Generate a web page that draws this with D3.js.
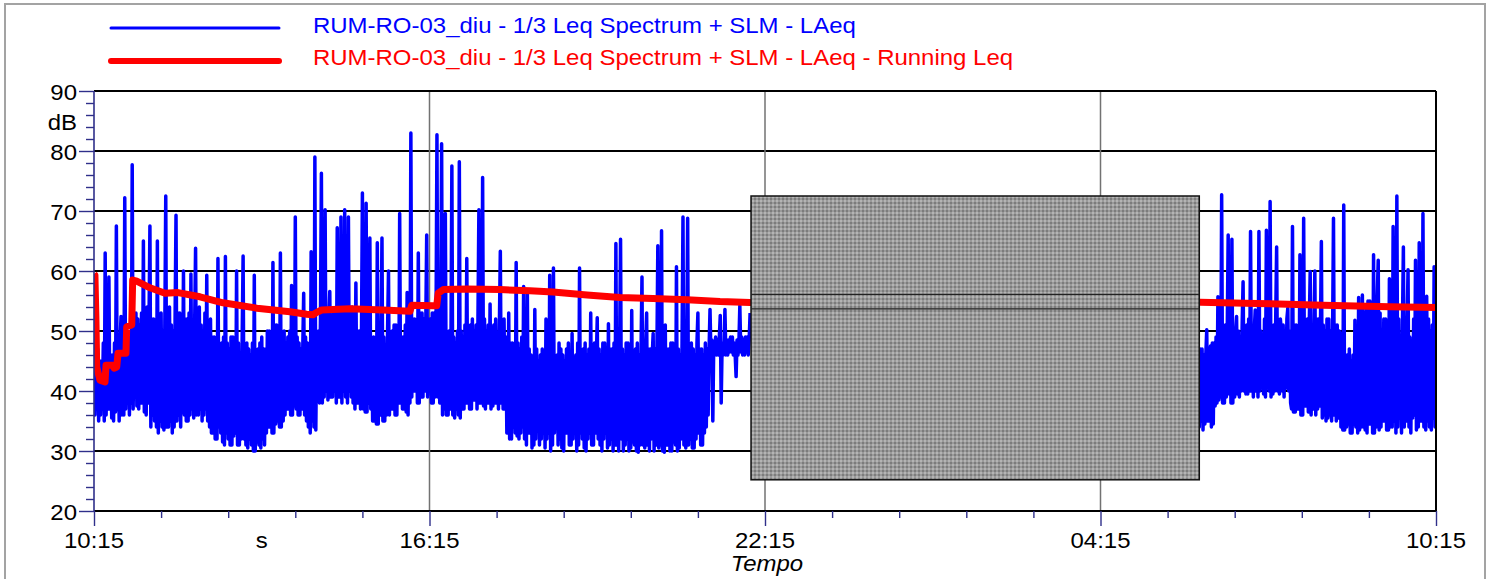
<!DOCTYPE html>
<html>
<head>
<meta charset="utf-8">
<script src="https://cdn.jsdelivr.net/npm/d3@7"></script>
<style>
  html, body { margin: 0; padding: 0; background: #fff; }
  svg { display: block; font-family: "Liberation Sans", Arial, Helvetica, sans-serif; }
</style>
</head>
<body>
<svg id="chart" width="1488" height="579"></svg>
<script>
// Time axis: minutes elapsed since 10:15 on the first day (0 .. 1440).
const seriesNames = [
  "RUM-RO-03_diu - 1/3 Leq Spectrum + SLM - LAeq",
  "RUM-RO-03_diu - 1/3 Leq Spectrum + SLM - LAeq - Running Leq"
];
const timeTickValues = [0, 360, 720, 1080, 1440];
const timeTickLabels = ["10:15", "16:15", "22:15", "04:15", "10:15"];
const levelTicks = [20, 30, 40, 50, 60, 70, 80, 90];
const unitLabels = ["dB", "s"];
const axisTitle = "Tempo";

// LAeq, one sample per minute, 10:15 -> 22:00
const sampleStep = 1;
const laeqDayStart = 0;
const laeqDay = [
  59.5, 36, 46, 37, 47, 35, 45, 36, 45, 38, 48, 35, 63, 36, 47, 37, 59, 37, 46, 35.5,
  46, 35, 48, 36.5, 67.5, 37, 47, 35, 48, 52.4, 36, 46, 36, 72.2, 37, 48, 38, 47, 36, 49,
  38, 77.7, 37, 51, 39, 53, 37.5, 52, 37, 51, 38, 53, 38, 65, 36.5, 50, 36, 54, 38, 51,
  67.5, 34, 52, 36, 52, 35, 51, 34, 65, 33, 52, 35, 53, 34, 50, 33.5, 51, 72.5, 34, 53,
  34, 54, 35, 51, 33, 50, 34, 52, 69.3, 35, 53, 36, 53, 34, 51, 36.5, 60, 36, 52, 35,
  52, 35, 53, 36, 59.5, 37, 51, 35.5, 51, 63.8, 36, 52, 36, 54, 37, 51, 35, 50, 36, 53,
  37, 59.3, 35, 50, 34, 52, 33, 49, 33, 49, 32, 48, 32, 62.1, 34, 47, 33, 48, 31.5, 49,
  31, 62.4, 33, 48, 32, 47, 31, 49, 31, 49, 32.5, 47, 33, 60, 31, 48, 31, 46, 32, 49,
  62.5, 32, 47, 31, 48, 30.5, 47, 32, 46, 31, 48, 30, 59.3, 30, 46, 31.5, 47, 31, 48, 30.5,
  49, 32, 47, 31, 47, 33, 50, 34, 50, 34, 49, 33, 61.4, 33, 51, 34.5, 51, 35, 50, 34,
  63, 34, 49, 35, 50, 36, 48, 37, 49, 37, 50, 36, 57.6, 36, 48, 37.5, 69, 37, 49, 36,
  48, 36, 47, 37, 47, 56.3, 36, 49, 35, 48, 34, 47, 33, 63.2, 35, 48, 34, 79, 33.5, 49,
  39, 50, 38, 52, 76.3, 38, 51, 39, 70.2, 40, 53, 38.5, 52, 56.6, 39, 51, 39, 53, 40, 52,
  38, 67.2, 39, 51, 39, 69, 38, 53, 40, 70.2, 39, 52, 38, 69, 40, 51, 39, 54, 38, 52,
  37, 58, 38, 50, 38, 50, 37, 49, 73, 37, 48, 36.5, 71.3, 36.5, 49, 38, 65.5, 37, 48, 35,
  49, 35, 47, 34.5, 64.7, 34.5, 48, 36, 48, 65.5, 35, 49, 35, 47, 36, 50, 60, 36, 49, 37,
  50, 37, 51, 36, 51, 36, 50, 38, 69.6, 38, 49, 37, 49, 37, 51, 36.5, 56.4, 36, 50, 38,
  83, 39, 52, 40, 52, 40, 51, 38, 63, 38, 53, 39, 53, 39, 52, 40, 51, 66, 39, 52,
  40, 52, 38, 53, 38, 53, 39, 51, 82.7, 39, 52, 38, 51, 81.2, 36, 49, 37, 69.6, 36, 48,
  36, 50, 37, 47, 77.5, 36, 49, 35.5, 48, 37, 50, 36, 78.2, 35.5, 50, 37, 49, 37, 51, 38,
  62.1, 38, 50, 37, 51, 37, 52, 38.5, 50, 38.5, 51, 37, 52, 70.2, 38, 50, 38, 75.6, 37.5, 52,
  37, 50, 38, 51, 38, 54.5, 37, 50, 37.5, 51, 38, 52, 38, 49, 37, 51, 63.3, 38, 50, 37,
  52, 37, 49, 33, 33, 53, 32, 48, 32, 48, 34, 47, 33, 61.4, 32.5, 48, 32, 47, 33, 49,
  34, 57.4, 32, 46, 31, 56.3, 33, 47, 33, 46, 30.5, 45, 31, 53.6, 32, 47, 34, 45, 31, 46,
  32, 47, 33, 45, 30.5, 52, 32, 46, 33, 59.3, 30, 47, 31, 60.5, 33, 45, 34, 46, 31, 48,
  32, 47, 30.5, 46, 30, 45, 33, 47, 33, 48, 31, 46, 31, 49.6, 32, 45, 33, 46, 30, 48,
  31, 60.5, 33, 46, 32, 47, 30.5, 48, 30, 46, 32, 47, 33, 53, 31, 46, 31, 48, 33, 45,
  52.2, 32, 47, 31, 46, 30, 48, 32, 48, 33, 46, 30.5, 51.2, 31, 47, 32, 47, 30, 48, 31,
  64.6, 31, 46, 30, 47, 65.3, 32, 47, 30, 46, 31, 48, 32, 48, 30, 47, 30.5, 53.4, 31.5, 46,
  31, 47, 30, 48, 29.8, 46, 31, 47, 59, 31, 46, 30.5, 48, 53, 31, 47, 30, 47, 32, 46,
  49.6, 30, 47, 31, 46, 64.2, 30.5, 48, 31, 66.7, 30, 46, 29.8, 51, 31, 47, 31, 47, 30, 48,
  30, 48, 31.5, 46, 31, 60.7, 30, 47, 30.5, 46, 32, 48, 69, 31, 47, 30.5, 47, 68.8, 31, 46,
  32, 48, 30.5, 47, 30.5, 46, 32, 48, 53, 33, 47, 31, 47, 31, 46, 33, 48, 34, 47, 36,
  47, 53.6, 46, 48.5, 35, 48, 46.5, 49, 46, 48.5, 46, 49, 52.6, 38, 48, 46, 46.5, 53.6, 46, 48.5,
  46, 48.5, 46.5, 49, 46.5, 49, 46, 48, 46, 42.4, 48.5, 46, 48, 54.2, 46.5, 49, 46, 48.5, 46, 49,
  46.5, 49, 46, 48.5, 53
];

// LAeq, one sample per minute, 06:00 -> 10:15
const laeqMorningStart = 1185;
const laeqMorning = [
  44, 34, 47, 35, 47, 33.5, 46, 34.5, 46, 50.2, 35, 47, 35, 47.5, 34, 48, 34.5, 48, 37.5, 49,
  38, 55.7, 38.5, 50, 39, 72.7, 38, 49, 38, 51, 39, 50, 66, 39.5, 51, 38, 65.3, 38, 49, 39,
  50, 52.4, 39.5, 50, 39, 49, 40, 51, 58.2, 40, 50, 39.5, 51, 39.5, 52, 40, 66.6, 40, 50, 39,
  50, 53.5, 40, 51, 39, 66.6, 40, 50, 40.5, 49, 39.5, 52, 39, 66.8, 40.5, 51, 40, 71.6, 39, 50,
  39.5, 51, 40, 52, 64, 40, 51, 39.5, 52, 50.2, 40, 51, 39, 50, 40.5, 52, 53.8, 40, 50, 38,
  37, 67.4, 36.5, 51, 36.5, 51, 37, 50, 37, 62.7, 36, 52, 36, 68.8, 37.5, 50, 37.5, 52, 36.5, 51,
  59.9, 36, 50, 37, 50, 60, 36, 52, 37, 52, 37.5, 50, 64.9, 35.5, 51, 36, 50, 35, 52, 35.5,
  52, 36, 50, 35, 49, 68.8, 36, 51, 35, 51, 35.5, 50, 49.6, 34, 47, 33.5, 71, 33.5, 46, 34,
  46, 34.5, 47, 33, 45, 33, 46, 34.5, 51.8, 34, 47, 33, 55.6, 33.5, 54, 34, 56, 34, 53, 33.5,
  54, 33, 55, 34.5, 55, 34.5, 53, 33, 62.7, 33, 54, 34, 56, 61.8, 33.5, 53, 34, 50, 35, 52,
  35, 52, 33.5, 49, 33.5, 58.7, 34, 51, 34, 67.4, 35, 50, 33, 72.5, 34, 52, 35.5, 49, 33, 51,
  64, 34, 50, 35, 51, 60.2, 34, 49, 33, 48, 35.5, 52, 36, 61.8, 33.5, 50, 34, 64.7, 35, 51,
  35, 69.6, 34, 49, 33.5, 55.8, 35, 52, 34, 50, 33.5, 51, 35.5, 60.7, 34, 50
];

// Running Leq (minutes, dB)
const runningLeqTimes = [
  0, 1, 2.1, 2.9, 6.4, 11.8, 12.9, 20.4, 21.5, 24.4,
  25.8, 34.3, 35.1, 40.5, 41.5, 45.8, 60.1, 76.2, 90.1, 113.7,
  138.4, 174.9, 210.3, 228.2, 235, 239, 244.3, 274.7, 310.1, 339.1,
  340.9, 363.8, 367.7, 369.4, 374.8, 399.9, 435.7, 467.8, 492.5, 529,
  564.4, 599.8, 636.3, 671.7, 703.9, 1186.8, 1247.6, 1318.7, 1390.6, 1440
];
const runningLeqValues = [
  59.5, 59.3, 51.8, 44, 41.8, 41.5, 44.3, 44.3, 43.8, 44,
  46.3, 46.3, 50.7, 51, 58.5, 58.3, 57.2, 56.3, 56.4, 55.7,
  54.7, 53.8, 53.2, 52.8, 52.7, 53.1, 53.5, 53.7, 53.5, 53.3,
  54.3, 54.2, 54.2, 56.3, 56.9, 57, 56.9, 56.7, 56.5, 56,
  55.6, 55.4, 55.2, 54.9, 54.75, 54.8, 54.6, 54.3, 54.05, 53.9
];

// Masked (excluded) period 22:00 -> 06:00
const maskedTimes = [705, 1186];
const maskedLevels = [25.2, 72.5];
const maskedMarkLevels = [56.1, 53.7];

// ---------------------------------------------------------------
const svg = d3.select("#chart");
const plot = { left: 94, right: 1436, top: 91, bottom: 511 };
const FONT = 22;
const STRETCH = 1.09;
const NAVY = "#2f2f8a";

const x = d3.scaleLinear().domain([0, 1440]).range([plot.left, plot.right]);
const y = d3.scaleLinear().domain([20, 90]).range([plot.bottom, plot.top]);

const defs = svg.append("defs");
defs.append("clipPath").attr("id", "plotClip")
  .append("rect")
  .attr("x", plot.left).attr("y", plot.top - 2)
  .attr("width", plot.right - plot.left).attr("height", plot.bottom - plot.top + 4);

const pat = defs.append("pattern").attr("id", "maskFill")
  .attr("patternUnits", "userSpaceOnUse").attr("width", 4).attr("height", 4);
pat.append("rect").attr("width", 4).attr("height", 4).attr("fill", "#9a9a9a");
pat.append("rect").attr("x", 0).attr("y", 0).attr("width", 2).attr("height", 2).attr("fill", "#b4b4b4");
pat.append("rect").attr("x", 2).attr("y", 2).attr("width", 2).attr("height", 2).attr("fill", "#7c7c7c");

// outer frame
svg.append("rect")
  .attr("x", 5).attr("y", 4).attr("width", 1480).attr("height", 600)
  .attr("fill", "none").attr("stroke", "#a3a3a3").attr("stroke-width", 2);

function addText(parent, px, py, str, opts = {}) {
  return parent.append("text")
    .attr("transform", `translate(${px},${py}) scale(${STRETCH},1)`)
    .attr("text-anchor", opts.anchor || "start")
    .attr("font-size", opts.size || FONT)
    .attr("font-style", opts.italic ? "italic" : "normal")
    .attr("fill", opts.fill || "#000")
    .text(str);
}

// horizontal grid
svg.append("g").selectAll("line")
  .data(levelTicks.filter(v => v > 20 && v < 90))
  .join("line")
  .attr("x1", plot.left).attr("x2", plot.right)
  .attr("y1", d => y(d)).attr("y2", d => y(d))
  .attr("stroke", "#000").attr("stroke-width", 2.2);

// vertical grid
svg.append("g").selectAll("line")
  .data(timeTickValues.slice(1, -1))
  .join("line")
  .attr("x1", d => x(d)).attr("x2", d => x(d))
  .attr("y1", plot.top).attr("y2", plot.bottom)
  .attr("stroke", "#727272").attr("stroke-width", 1.5);

// data
const dataG = svg.append("g").attr("clip-path", "url(#plotClip)");
const lineGen = d3.line().x(d => x(d[0])).y(d => y(d[1]));

const dayPts = laeqDay.map((v, i) => [laeqDayStart + i * sampleStep, v]);
const mornPts = laeqMorning.map((v, i) => [laeqMorningStart + i * sampleStep, v]);
[dayPts, mornPts].forEach(pts => {
  dataG.append("path")
    .attr("d", lineGen(pts))
    .attr("fill", "none").attr("stroke", "#0000ff")
    .attr("stroke-width", 3.5).attr("stroke-linejoin", "round");
});

const runPts = runningLeqTimes.map((t, i) => [t, runningLeqValues[i]]);
dataG.append("path")
  .attr("d", lineGen(runPts))
  .attr("fill", "none").attr("stroke", "#ff0000")
  .attr("stroke-width", 7).attr("stroke-linejoin", "round");

// masked period
svg.append("rect")
  .attr("x", x(maskedTimes[0])).attr("y", y(maskedLevels[1]))
  .attr("width", x(maskedTimes[1]) - x(maskedTimes[0]))
  .attr("height", y(maskedLevels[0]) - y(maskedLevels[1]))
  .attr("fill", "url(#maskFill)").attr("stroke", "#111").attr("stroke-width", 1.5);
svg.append("g").selectAll("line")
  .data(maskedMarkLevels)
  .join("line")
  .attr("x1", x(maskedTimes[0])).attr("x2", x(maskedTimes[1]))
  .attr("y1", d => y(d)).attr("y2", d => y(d))
  .attr("stroke", "#222").attr("stroke-width", 1.3);

// frame lines
svg.append("line").attr("x1", plot.left).attr("x2", plot.right)
  .attr("y1", y(90)).attr("y2", y(90)).attr("stroke", "#000").attr("stroke-width", 2.2);
svg.append("line").attr("x1", plot.left).attr("x2", plot.right)
  .attr("y1", y(20)).attr("y2", y(20)).attr("stroke", "#000").attr("stroke-width", 2.2);
svg.append("line").attr("x1", plot.right).attr("x2", plot.right)
  .attr("y1", y(90)).attr("y2", y(20)).attr("stroke", "#000").attr("stroke-width", 2);

// y axis ticks
const minorLevels = d3.range(20, 91, 2).filter(v => v % 10 !== 0);
const yMajor = svg.append("g").attr("transform", `translate(${plot.left},0)`)
  .call(d3.axisLeft(y).tickValues(levelTicks).tickSize(15).tickFormat(""));
const yMinor = svg.append("g").attr("transform", `translate(${plot.left},0)`)
  .call(d3.axisLeft(y).tickValues(minorLevels).tickSize(8).tickFormat(""));
[yMajor, yMinor].forEach(g => {
  g.select(".domain").remove();
  g.selectAll("line").attr("stroke", NAVY).attr("stroke-width", 1.4);
});
svg.append("line").attr("x1", plot.left).attr("x2", plot.left)
  .attr("y1", y(90)).attr("y2", y(20)).attr("stroke", NAVY).attr("stroke-width", 1.6);

levelTicks.forEach(v => addText(svg, 77, y(v) + 8.5, String(v), { anchor: "end" }));
addText(svg, 77, 130, unitLabels[0], { anchor: "end" });

// x axis ticks
const minorTimes = d3.range(0, 1441, 72).filter(t => t % 360 !== 0);
const xMajor = svg.append("g").attr("transform", `translate(0,${plot.bottom})`)
  .call(d3.axisBottom(x).tickValues(timeTickValues).tickSize(15).tickFormat(""));
const xMinor = svg.append("g").attr("transform", `translate(0,${plot.bottom})`)
  .call(d3.axisBottom(x).tickValues(minorTimes).tickSize(7).tickFormat(""));
[xMajor, xMinor].forEach(g => {
  g.select(".domain").remove();
  g.selectAll("line").attr("stroke", NAVY).attr("stroke-width", 1.4);
});

timeTickValues.forEach((t, i) => addText(svg, x(t), 548, timeTickLabels[i], { anchor: "middle" }));
addText(svg, x(180), 548, unitLabels[1], { anchor: "middle" });
addText(svg, 767, 571, axisTitle, { anchor: "middle", italic: true });

// legend
const legendColors = ["#0000ff", "#ff0000"];
const legendWidths = [3, 6];
const legendRows = [28, 61];
const legendBase = [33, 65];
seriesNames.forEach((name, i) => {
  svg.append("line")
    .attr("x1", 111).attr("x2", 279)
    .attr("y1", legendRows[i]).attr("y2", legendRows[i])
    .attr("stroke", legendColors[i]).attr("stroke-width", legendWidths[i])
    .attr("stroke-linecap", "round");
  addText(svg, 313, legendBase[i], name, { fill: legendColors[i] });
});
</script>
</body>
</html>
